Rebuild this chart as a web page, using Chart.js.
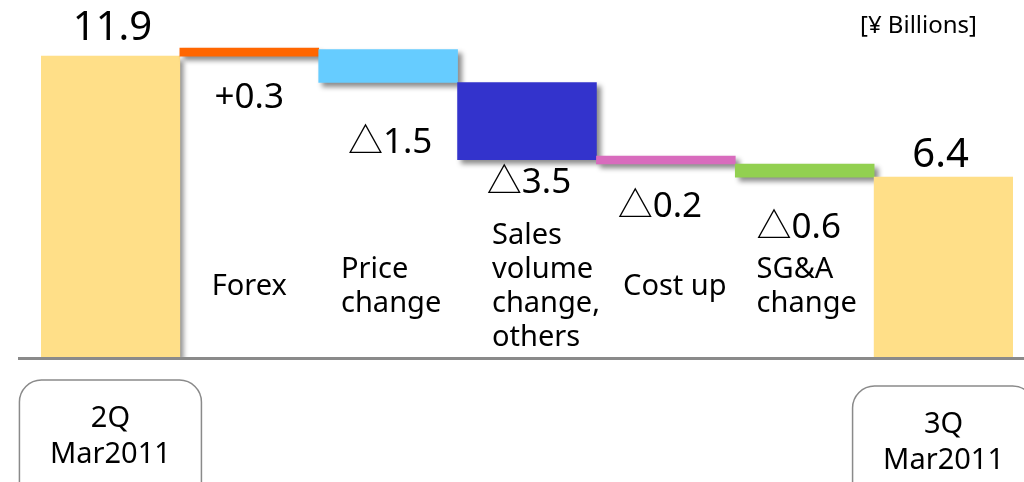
<!DOCTYPE html>
<html>
<head>
<meta charset="utf-8">
<script src="https://cdn.jsdelivr.net/npm/chart.js@4.4.1/dist/chart.umd.min.js"></script>
<style>
  html, body { margin: 0; padding: 0; background: #fff; overflow: hidden; }
</style>
</head>
<body>
<canvas id="bridgeChart" width="1024" height="482"></canvas>
<script>
const categories = [
    ['2Q', 'Mar2011'],
    ['Forex'],
    ['Price', 'change'],
    ['Sales', 'volume', 'change,', 'others'],
    ['Cost up'],
    ['SG&A', 'change'],
    ['3Q', 'Mar2011']
];
const isTotal = [true, false, false, false, false, false, true];
const values = [11.9, 0.3, -1.5, -3.5, -0.2, -0.6, 6.4];
const barColors = ['#FFDF88', '#FF6600', '#66CCFF', '#3333CC', '#D86BBD', '#92D050', '#FFDF88'];
const unitLabel = '[¥ Billions]';

const Y_MIN = -1.77;
const Y_MAX = 14.45;
const FONT = '"Noto Sans", "Noto Sans CJK JP", sans-serif';

// running totals -> floating bars
function buildBars() {
    let running = 0;
    return values.map((v, i) => {
        if (isTotal[i]) {
            running = v;
            return [Y_MIN, v];
        }
        const start = running;
        running += v;
        return [start, running];
    });
}

function valueText(v, i) {
    if (isTotal[i]) return v.toFixed(1);
    return (v >= 0 ? '+' : '△') + Math.abs(v).toFixed(1);
}

const valueLabelY = [40, 108, 153, 193, 217, 238, 167];
const valueNudgeX = [2, 0, 2, 2, -6, -6, -3];
const labelNudgeX = [0, 0, 3, 19, 9, 2, 0];

const decorPlugin = {
    id: 'decor',
    beforeDatasetsDraw(chart) {
        const ctx = chart.ctx;
        ctx.save();
        ctx.shadowColor = 'rgba(0, 0, 0, 0.45)';
        ctx.shadowBlur = 5;
        ctx.shadowOffsetX = 4;
        ctx.shadowOffsetY = 4;
    },
    afterDatasetsDraw(chart) {
        const ctx = chart.ctx;
        ctx.restore();

        const xs = chart.scales.x;
        const ys = chart.scales.y;
        const baseY = ys.getPixelForValue(Y_MIN);

        ctx.save();
        ctx.strokeStyle = '#8a8a8a';
        ctx.lineWidth = 3;
        ctx.beginPath();
        ctx.moveTo(18, baseY + 1.5);
        ctx.lineTo(chart.width, baseY + 1.5);
        ctx.stroke();

        ctx.fillStyle = '#000';
        ctx.textBaseline = 'alphabetic';
        ctx.textAlign = 'center';

        // value labels
        values.forEach((v, i) => {
            const cx = xs.getPixelForValue(i) + valueNudgeX[i];
            ctx.font = (isTotal[i] ? '40px ' : '35px ') + FONT;
            ctx.fillText(valueText(v, i), cx, valueLabelY[i]);
        });

        // category labels
        categories.forEach((lines, i) => {
            const cx = xs.getPixelForValue(i);
            if (isTotal[i]) {
                const top = baseY + (i === 0 ? 23 : 29);
                ctx.strokeStyle = '#8a8a8a';
                ctx.lineWidth = 1.5;
                ctx.beginPath();
                ctx.roundRect(cx - 91, top, 182, 160, 22);
                ctx.stroke();
                ctx.font = '29px ' + FONT;
                ctx.textAlign = 'center';
                ctx.fillText(lines[0], cx, top + 47);
                ctx.fillText(lines[1], cx, top + 83);
            } else {
                ctx.font = '29px ' + FONT;
                const w = Math.max(...lines.map(l => ctx.measureText(l).width));
                const left = cx - w / 2 + labelNudgeX[i];
                const first = 285 - (lines.length - 1) * 17 + 10;
                ctx.textAlign = 'left';
                lines.forEach((l, k) => ctx.fillText(l, left, first + k * 34));
            }
        });

        ctx.textAlign = 'left';
        ctx.font = '24px ' + FONT;
        ctx.fillText(unitLabel, 860, 33);
        ctx.restore();
    }
};

const ctx = document.getElementById('bridgeChart').getContext('2d');
new Chart(ctx, {
    type: 'bar',
    data: {
        labels: categories.map(c => c.join(' ')),
        datasets: [{
            data: buildBars(),
            backgroundColor: barColors,
            borderWidth: 0,
            barPercentage: 1,
            categoryPercentage: 1,
            minBarLength: 8
        }]
    },
    options: {
        responsive: false,
        animation: false,
        layout: { padding: { left: 41, right: 11, top: 0, bottom: 125 } },
        scales: {
            x: { display: false },
            y: { display: false, min: Y_MIN, max: Y_MAX }
        },
        plugins: {
            legend: { display: false },
            tooltip: { enabled: false }
        }
    },
    plugins: [decorPlugin]
});
</script>
</body>
</html>
